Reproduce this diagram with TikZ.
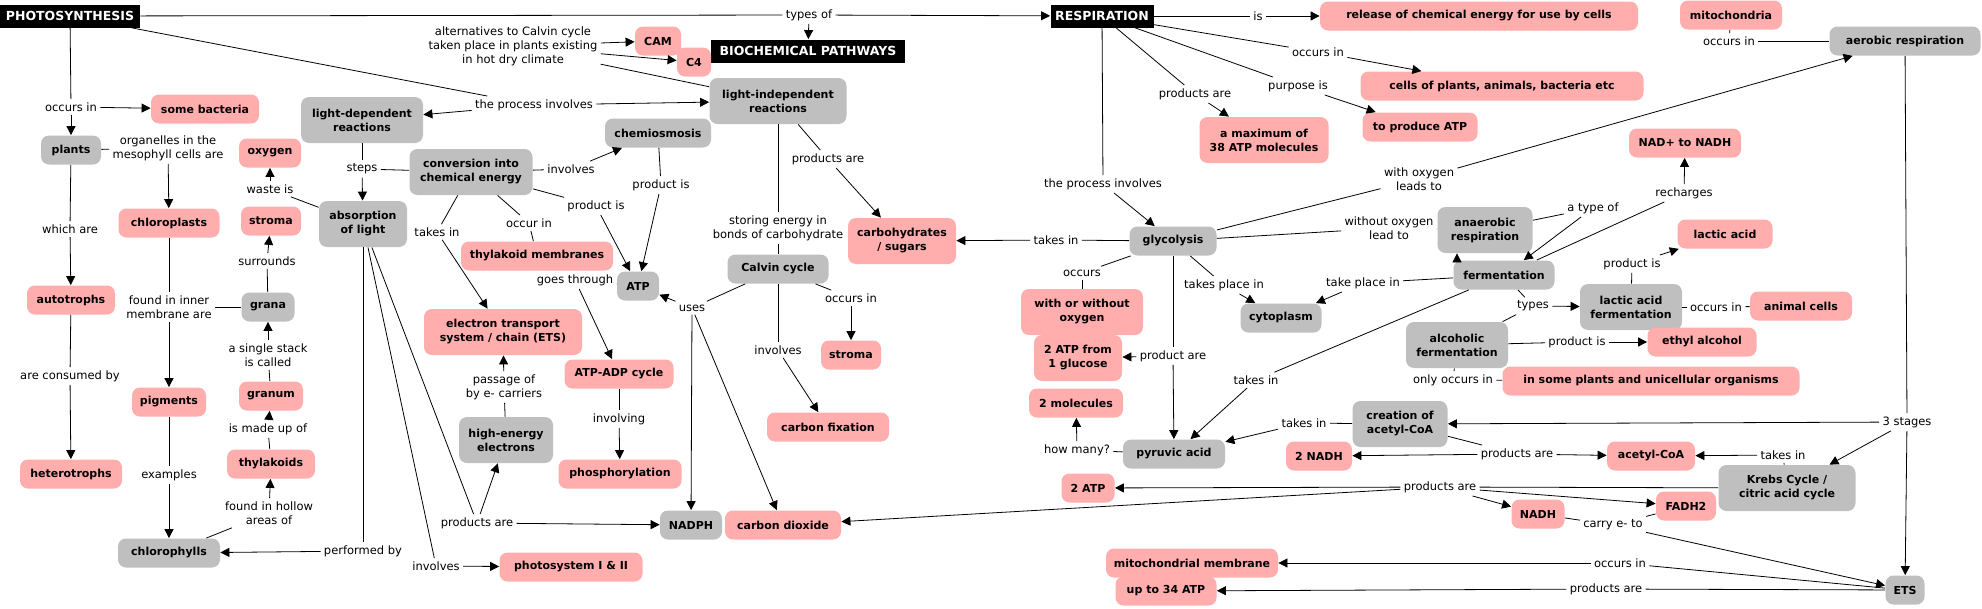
\documentclass[tikz,border=0pt]{standalone}
\usepackage{fontspec}
\setmainfont{DejaVu Sans}
\usetikzlibrary{arrows.meta}
\definecolor{cmappink}{RGB}{255,173,173}
\definecolor{cmapgrey}{RGB}{191,191,191}

\begin{document}
\begin{tikzpicture}[x=1pt,y=-1pt,line width=0.8pt,>={Triangle[length=9pt,width=9pt]},
  concept/.style={rounded corners=8pt,inner xsep=4pt,inner ysep=3pt,minimum height=29pt,align=center,font=\fontsize{11pt}{14pt}\selectfont\bfseries},
  pk/.style={concept,fill=cmappink},
  gr/.style={concept,fill=cmapgrey},
  tall/.style={minimum height=46pt},
  hd/.style={fill=black,text=white,inner xsep=4pt,inner ysep=3pt,minimum height=23pt,font=\fontsize{12.5pt}{14pt}\selectfont\bfseries},
  lk/.style={align=center,inner sep=3pt,font=\fontsize{11.5pt}{14pt}\selectfont}]

\useasboundingbox (0,0) rectangle (1982,608);

\node [hd, minimum width=140pt] (photo) at (70,16) {PHOTOSYNTHESIS};
\node [hd, minimum width=103pt] (resp) at (1102,16) {RESPIRATION};
\node [hd, minimum width=194pt] (biochem) at (808,51) {BIOCHEMICAL PATHWAYS};

\node [gr, minimum width=60pt] (plants) at (71,150) {plants};
\node [gr, tall, minimum width=122pt] (lightdep) at (362,120) {light-dependent\\reactions};
\node [gr, tall, minimum width=123pt] (conversion) at (471,172) {conversion into\\chemical energy};
\node [gr, tall, minimum width=88pt] (absorption) at (363,224) {absorption\\of light};
\node [gr, minimum width=53pt] (grana) at (268,307) {grana};
\node [gr, minimum width=102pt] (chlorophylls) at (169,553) {chlorophylls};
\node [gr, tall, minimum width=94pt] (highen) at (506,440) {high-energy\\electrons};
\node [gr, minimum width=62pt] (nadph) at (691,525) {NADPH};
\node [gr, tall, minimum width=137pt] (lightind) at (778,101) {light-independent\\reactions};
\node [gr, minimum width=106pt] (chemi) at (658,133) {chemiosmosis};
\node [gr, minimum width=42pt] (atp) at (638,286) {ATP};
\node [gr, minimum width=101pt] (calvin) at (778,269) {Calvin cycle};

\node [pk, minimum width=108pt] (bacteria) at (205,109) {some bacteria};
\node [pk, minimum width=62pt] (oxygen) at (270,153) {oxygen};
\node [pk, minimum width=101pt] (chloroplasts) at (169,223) {chloroplasts};
\node [pk, minimum width=60pt] (stromaL) at (271,221) {stroma};
\node [pk, minimum width=88pt] (autotrophs) at (71,300) {autotrophs};
\node [pk, minimum width=74pt] (pigments) at (169,402) {pigments};
\node [pk, minimum width=64pt] (granum) at (271,396) {granum};
\node [pk, minimum width=102pt] (heterotrophs) at (71,474) {heterotrophs};
\node [pk, minimum width=88pt] (thylakoids) at (271,464) {thylakoids};
\node [pk, minimum width=143pt] (photosys) at (571,567) {photosystem I \& II};
\node [pk, minimum width=152pt] (thylmem) at (537,256) {thylakoid membranes};
\node [pk, tall, minimum width=158pt] (ets) at (503,332) {electron transport\\system / chain (ETS)};
\node [pk, minimum width=109pt] (atpadp) at (619,374) {ATP-ADP cycle};
\node [pk, minimum width=123pt] (phosph) at (620,474) {phosphorylation};
\node [pk, minimum width=46pt] (cam) at (658,41) {CAM};
\node [pk, minimum width=34pt] (cfour) at (694,62) {C4};
\node [pk, tall, minimum width=108pt] (carbs) at (902,241) {carbohydrates\\/ sugars};
\node [pk, minimum width=60pt] (stromaR) at (851,355) {stroma};
\node [pk, minimum width=122pt] (cfix) at (828,427) {carbon fixation};
\node [pk, minimum width=116pt] (co2) at (783,525) {carbon dioxide};

\node [gr, minimum width=87pt] (glyco) at (1173,241) {glycolysis};
\node [gr, minimum width=81pt] (cyto) at (1281,318) {cytoplasm};
\node [gr, minimum width=102pt] (pyruvic) at (1174,454) {pyruvic acid};
\node [gr, minimum width=151pt] (aerobic) at (1905,41) {aerobic respiration};
\node [gr, tall, minimum width=95pt] (anaerobic) at (1485,230) {anaerobic\\respiration};
\node [gr, minimum width=101pt] (ferment) at (1504,275) {fermentation};
\node [gr, tall, minimum width=102pt] (lacticferm) at (1631,307) {lactic acid\\fermentation};
\node [gr, tall, minimum width=102pt] (alcoholic) at (1457,345) {alcoholic\\fermentation};
\node [gr, tall, minimum width=95pt] (creation) at (1400,424) {creation of\\acetyl-CoA};
\node [gr, tall, minimum width=137pt] (krebs) at (1787,488) {Krebs Cycle /\\citric acid cycle};
\node [gr, minimum width=39pt] (etsR) at (1905,590) {ETS};

\node [pk, minimum width=318pt] (release) at (1479,16) {release of chemical energy for use by cells};
\node [pk, minimum width=102pt] (mito) at (1731,15) {mitochondria};
\node [pk, minimum width=283pt] (cells) at (1502,86) {cells of plants, animals, bacteria etc};
\node [pk, minimum width=115pt] (toatp) at (1420,127) {to produce ATP};
\node [pk, tall, minimum width=129pt] (max38) at (1264,140) {a maximum of\\38 ATP molecules};
\node [pk, minimum width=112pt] (nadnadh) at (1685,143) {NAD+ to NADH};
\node [pk, minimum width=95pt] (lactic) at (1725,234) {lactic acid};
\node [pk, tall, minimum width=122pt] (withwithout) at (1082,312) {with or without\\oxygen};
\node [pk, tall, minimum width=88pt] (twoatpglu) at (1078,358) {2 ATP from\\1 glucose};
\node [pk, minimum width=94pt] (twomol) at (1076,403) {2 molecules};
\node [pk, minimum width=102pt] (animal) at (1801,306) {animal cells};
\node [pk, minimum width=109pt] (ethyl) at (1702,342) {ethyl alcohol};
\node [pk, minimum width=297pt] (someplants) at (1651,381) {in some plants and unicellular organisms};
\node [pk, minimum width=66pt] (twonadh) at (1319,456) {2 NADH};
\node [pk, minimum width=88pt] (acetyl) at (1651,456) {acetyl-CoA};
\node [pk, minimum width=53pt] (twoatp) at (1088,488) {2 ATP};
\node [pk, minimum width=53pt] (nadh) at (1538,514) {NADH};
\node [pk, minimum width=60pt] (fadh) at (1686,506) {FADH2};
\node [pk, minimum width=172pt] (mitomem) at (1192,563) {mitochondrial membrane};
\node [pk, minimum width=101pt] (upto) at (1166,591) {up to 34 ATP};

\node [lk] (l1) at (71,107) {occurs in};
\node [lk] (l2) at (168,148) {organelles in the\\mesophyll cells are};
\node [lk] (l3) at (70,229) {which are};
\node [lk] (l4) at (70,376) {are consumed by};
\node [lk] (l5) at (169,307) {found in inner\\membrane are};
\node [lk] (l6) at (169,475) {examples};
\node [lk] (l7) at (270,189) {waste is};
\node [lk] (l8) at (267,261) {surrounds};
\node [lk] (l9) at (268,355) {a single stack\\is called};
\node [lk] (l10) at (268,429) {is made up of};
\node [lk] (l11) at (269,513) {found in hollow\\areas of};
\node [lk] (l12) at (363,551) {performed by};
\node [lk] (l13) at (436,566) {involves};
\node [lk] (l14) at (477,523) {products are};
\node [lk] (l15) at (362,169) {steps};
\node [lk] (l16) at (534,105) {the process involves};
\node [lk] (l17) at (437,232) {takes in};
\node [lk] (l18) at (571,169) {involves};
\node [lk] (l19) at (661,185) {product is};
\node [lk] (l20) at (596,206) {product is};
\node [lk] (l21) at (529,223) {occur in};
\node [lk] (l22) at (575,280) {goes through};
\node [lk] (l23) at (504,387) {passage of\\by e- carriers};
\node [lk] (l24) at (619,419) {involving};
\node [lk] (l25) at (513,46) {alternatives to Calvin cycle\\taken place in plants existing\\in hot dry climate};
\node [lk] (l26) at (809,15) {types of};
\node [lk] (l27) at (828,159) {products are};
\node [lk] (l28) at (778,228) {storing energy in\\bonds of carbohydrate};
\node [lk] (l29) at (692,308) {uses};
\node [lk] (l30) at (851,298) {occurs in};
\node [lk] (l31) at (778,350) {involves};

\node [lk] (r1) at (1258,16) {is};
\node [lk] (r2) at (1318,52) {occurs in};
\node [lk] (r3) at (1298,86) {purpose is};
\node [lk] (r4) at (1195,94) {products are};
\node [lk] (r5) at (1103,184) {the process involves};
\node [lk] (r6) at (1056,240) {takes in};
\node [lk] (r7) at (1419,179) {with oxygen\\leads to};
\node [lk] (r8) at (1389,228) {without oxygen\\lead to};
\node [lk] (r9) at (1082,273) {occurs};
\node [lk] (r10) at (1224,285) {takes place in};
\node [lk] (r11) at (1363,283) {take place in};
\node [lk] (r12) at (1173,356) {product are};
\node [lk] (r13) at (1256,380) {takes in};
\node [lk] (r14) at (1077,450) {how many?};
\node [lk] (r15) at (1304,423) {takes in};
\node [lk] (r16) at (1517,454) {products are};
\node [lk] (r17) at (1440,487) {products are};
\node [lk] (r18) at (1613,525) {carry e- to};
\node [lk] (r19) at (1620,563) {occurs in};
\node [lk] (r20) at (1606,589) {products are};
\node [lk] (r21) at (1729,41) {occurs in};
\node [lk] (r22) at (1593,208) {a type of};
\node [lk] (r23) at (1684,193) {recharges};
\node [lk] (r24) at (1632,264) {product is};
\node [lk] (r25) at (1716,307) {occurs in};
\node [lk] (r26) at (1533,306) {types};
\node [lk] (r27) at (1577,342) {product is};
\node [lk] (r28) at (1453,380) {only occurs in};
\node [lk] (r29) at (1907,422) {3 stages};
\node [lk] (r30) at (1783,455) {takes in};

\draw (photo) -- (l1);
\draw [->] (l1) -- (plants);
\draw [->] (l1) -- (bacteria);
\draw (plants) -- (l2);
\draw [->] (l2) -- (chloroplasts);
\draw (plants) -- (l3);
\draw [->] (l3) -- (autotrophs);
\draw (autotrophs) -- (l4);
\draw [->] (l4) -- (heterotrophs);
\draw (chloroplasts) -- (l5);
\draw (grana) -- (l5);
\draw [->] (l5) -- (pigments);
\draw (pigments) -- (l6);
\draw [->] (l6) -- (chlorophylls);
\draw (absorption) -- (l7);
\draw [->] (l7) -- (oxygen);
\draw (grana) -- (l8);
\draw [->] (l8) -- (stromaL);
\draw (granum) -- (l9);
\draw [->] (l9) -- (grana);
\draw (thylakoids) -- (l10);
\draw [->] (l10) -- (granum);
\draw (chlorophylls) -- (l11);
\draw [->] (l11) -- (thylakoids);
\draw (absorption) -- (l12);
\draw [->] (l12) -- (chlorophylls);
\draw (absorption) -- (l13);
\draw [->] (l13) -- (photosys);
\draw (absorption) -- (l14);
\draw [->] (l14) -- (highen);
\draw [->] (l14) -- (nadph);
\draw (lightdep) -- (l15);
\draw (conversion) -- (l15);
\draw [->] (l15) -- (absorption);
\draw (photo) -- (l16);
\draw [->] (l16) -- (lightdep);
\draw [->] (l16) -- (lightind);
\draw (conversion) -- (l17);
\draw [->] (l17) -- (ets);
\draw (conversion) -- (l18);
\draw [->] (l18) -- (chemi);
\draw (chemi) -- (l19);
\draw [->] (l19) -- (atp);
\draw (conversion) -- (l20);
\draw [->] (l20) -- (atp);
\draw (conversion) -- (l21);
\draw (l21) -- (thylmem);
\draw (atp) -- (l22);
\draw [->] (l22) -- (atpadp);
\draw (highen) -- (l23);
\draw [->] (l23) -- (ets);
\draw (atpadp) -- (l24);
\draw [->] (l24) -- (phosph);
\draw (lightind) -- (l25);
\draw [->] (l25) -- (cam);
\draw [->] (l25) -- (cfour);
\draw (photo) -- (l26);
\draw [->] (l26) -- (biochem);
\draw [->] (l26) -- (resp);
\draw (lightind) -- (l27);
\draw [->] (l27) -- (carbs);
\draw (lightind) -- (l28);
\draw (l28) -- (calvin);
\draw (calvin) -- (l29);
\draw [->] (l29) -- (atp);
\draw [->] (l29) -- (nadph);
\draw [->] (l29) -- (co2);
\draw (calvin) -- (l30);
\draw [->] (l30) -- (stromaR);
\draw (calvin) -- (l31);
\draw [->] (l31) -- (cfix);

\draw (resp) -- (r1);
\draw [->] (r1) -- (release);
\draw (resp) -- (r2);
\draw [->] (r2) -- (cells);
\draw (resp) -- (r3);
\draw [->] (r3) -- (toatp);
\draw (resp) -- (r4);
\draw [->] (r4) -- (max38);
\draw (resp) -- (r5);
\draw [->] (r5) -- (glyco);
\draw (glyco) -- (r6);
\draw [->] (r6) -- (carbs);
\draw (glyco) -- (r7);
\draw [->] (r7) -- (aerobic);
\draw (glyco) -- (r8);
\draw (r8) -- (anaerobic);
\draw (glyco) -- (r9);
\draw (r9) -- (withwithout);
\draw (glyco) -- (r10);
\draw [->] (r10) -- (cyto);
\draw (ferment) -- (r11);
\draw [->] (r11) -- (cyto);
\draw (glyco) -- (r12);
\draw [->] (r12) -- (twoatpglu);
\draw [->] (r12) -- (pyruvic);
\draw (ferment) -- (r13);
\draw [->] (r13) -- (pyruvic);
\draw (pyruvic) -- (r14);
\draw [->] (r14) -- (twomol);
\draw (creation) -- (r15);
\draw [->] (r15) -- (pyruvic);
\draw (creation) -- (r16);
\draw [->] (r16) -- (twonadh);
\draw [->] (r16) -- (acetyl);
\draw (krebs) -- (r17);
\draw [->] (r17) -- (twoatp);
\draw [->] (r17) -- (nadh);
\draw [->] (r17) -- (fadh);
\draw [->] (r17) -- (co2);
\draw (nadh) -- (r18);
\draw (fadh) -- (r18);
\draw [->] (r18) -- (etsR);
\draw (etsR) -- (r19);
\draw [->] (r19) -- (mitomem);
\draw (etsR) -- (r20);
\draw [->] (r20) -- (upto);
\draw (aerobic) -- (r21);
\draw (r21) -- (mito);
\draw (anaerobic) -- (r22);
\draw [->] (r22) -- (ferment);
\draw [->] ([xshift=-47pt]ferment.north) -- ([xshift=-28pt]anaerobic.south);
\draw (ferment) -- (r23);
\draw [->] (r23) -- (nadnadh);
\draw (lacticferm) -- (r24);
\draw [->] (r24) -- (lactic);
\draw (lacticferm) -- (r25);
\draw (r25) -- (animal);
\draw (ferment) -- (r26);
\draw [->] (r26) -- (lacticferm);
\draw (r26) -- (alcoholic);
\draw (alcoholic) -- (r27);
\draw [->] (r27) -- (ethyl);
\draw (alcoholic) -- (r28);
\draw (r28) -- (someplants);
\draw (aerobic) -- (r29);
\draw [->] (r29) -- (creation);
\draw [->] (r29) -- (krebs);
\draw [->] (r29) -- (etsR);
\draw (krebs) -- (r30);
\draw [->] (r30) -- (acetyl);

\end{tikzpicture}
\end{document}
